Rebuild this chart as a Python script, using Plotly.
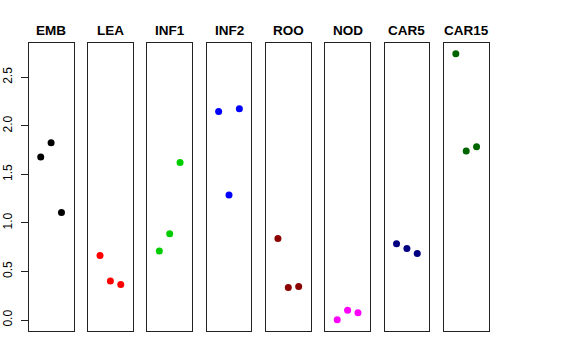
import plotly.graph_objects as go

tissues = ["EMB", "LEA", "INF1", "INF2", "ROO", "NOD", "CAR5", "CAR15"]
rep1 = [1.68, 0.665, 0.71, 2.147, 0.839, 0.004, 0.785, 2.743]
rep2 = [1.826, 0.401, 0.888, 1.288, 0.336, 0.10, 0.737, 1.740]
rep3 = [1.107, 0.367, 1.623, 2.175, 0.346, 0.076, 0.685, 1.785]
colors = ["#000000", "#FF0000", "#00CD00", "#0000FF", "#8B0000", "#FF00FF", "#000080", "#006400"]
replicates = [1, 2, 3]
y_ticks = [0.0, 0.5, 1.0, 1.5, 2.0, 2.5]

W, H = 576, 360
left0, pw, step = 28.7, 44.8, 59.3
top_px, bot_px = 43.0, 330.7

fig = go.Figure()
for i, t in enumerate(tissues):
    n = "" if i == 0 else str(i + 1)
    fig.add_trace(go.Scatter(
        x=replicates, y=[rep1[i], rep2[i], rep3[i]],
        mode="markers", marker=dict(color=colors[i], size=7),
        xaxis="x" + n, yaxis="y" + n, showlegend=False, hoverinfo="y"))
    x0 = (left0 + i * step) / W
    x1 = (left0 + i * step + pw) / W
    fig.layout["xaxis" + n] = dict(
        domain=[x0, x1], range=[-0.16, 4.16], showgrid=False, zeroline=False,
        showticklabels=False, ticks="", showline=True, mirror=True,
        linecolor="#222", linewidth=1, anchor="y" + n, fixedrange=True,
        automargin=False)
    ya = dict(domain=[1 - bot_px / H, 1 - top_px / H], range=[-0.1097, 2.853],
              showgrid=False, zeroline=False, showline=True, mirror=True,
              linecolor="#222", linewidth=1, anchor="x" + n, fixedrange=True,
              automargin=False)
    if i == 0:
        ya.update(tickvals=y_ticks, ticktext=["%.1f" % v for v in y_ticks],
                  ticks="outside", ticklen=7, tickcolor="#222", tickangle=-90,
                  tickfont=dict(size=12, color="#000", family="Liberation Sans"),
                  ticklabelstandoff=4)
    else:
        ya.update(showticklabels=False, ticks="")
    fig.layout["yaxis" + n] = ya
    fig.add_annotation(x=(x0 + x1) / 2, y=1 - 30 / H, xref="paper", yref="paper",
                       text="<b>%s</b>" % t, showarrow=False, xanchor="center",
                       yanchor="middle",
                       font=dict(size=13.5, color="#000", family="Liberation Sans"))

fig.update_layout(width=W, height=H, margin=dict(l=0, r=0, t=0, b=0),
                  paper_bgcolor="white", plot_bgcolor="white",
                  font=dict(family="Liberation Sans"))
fig.write_html("out.html", post_script="document.body.style.margin='0';",
               config={"displayModeBar": False})
